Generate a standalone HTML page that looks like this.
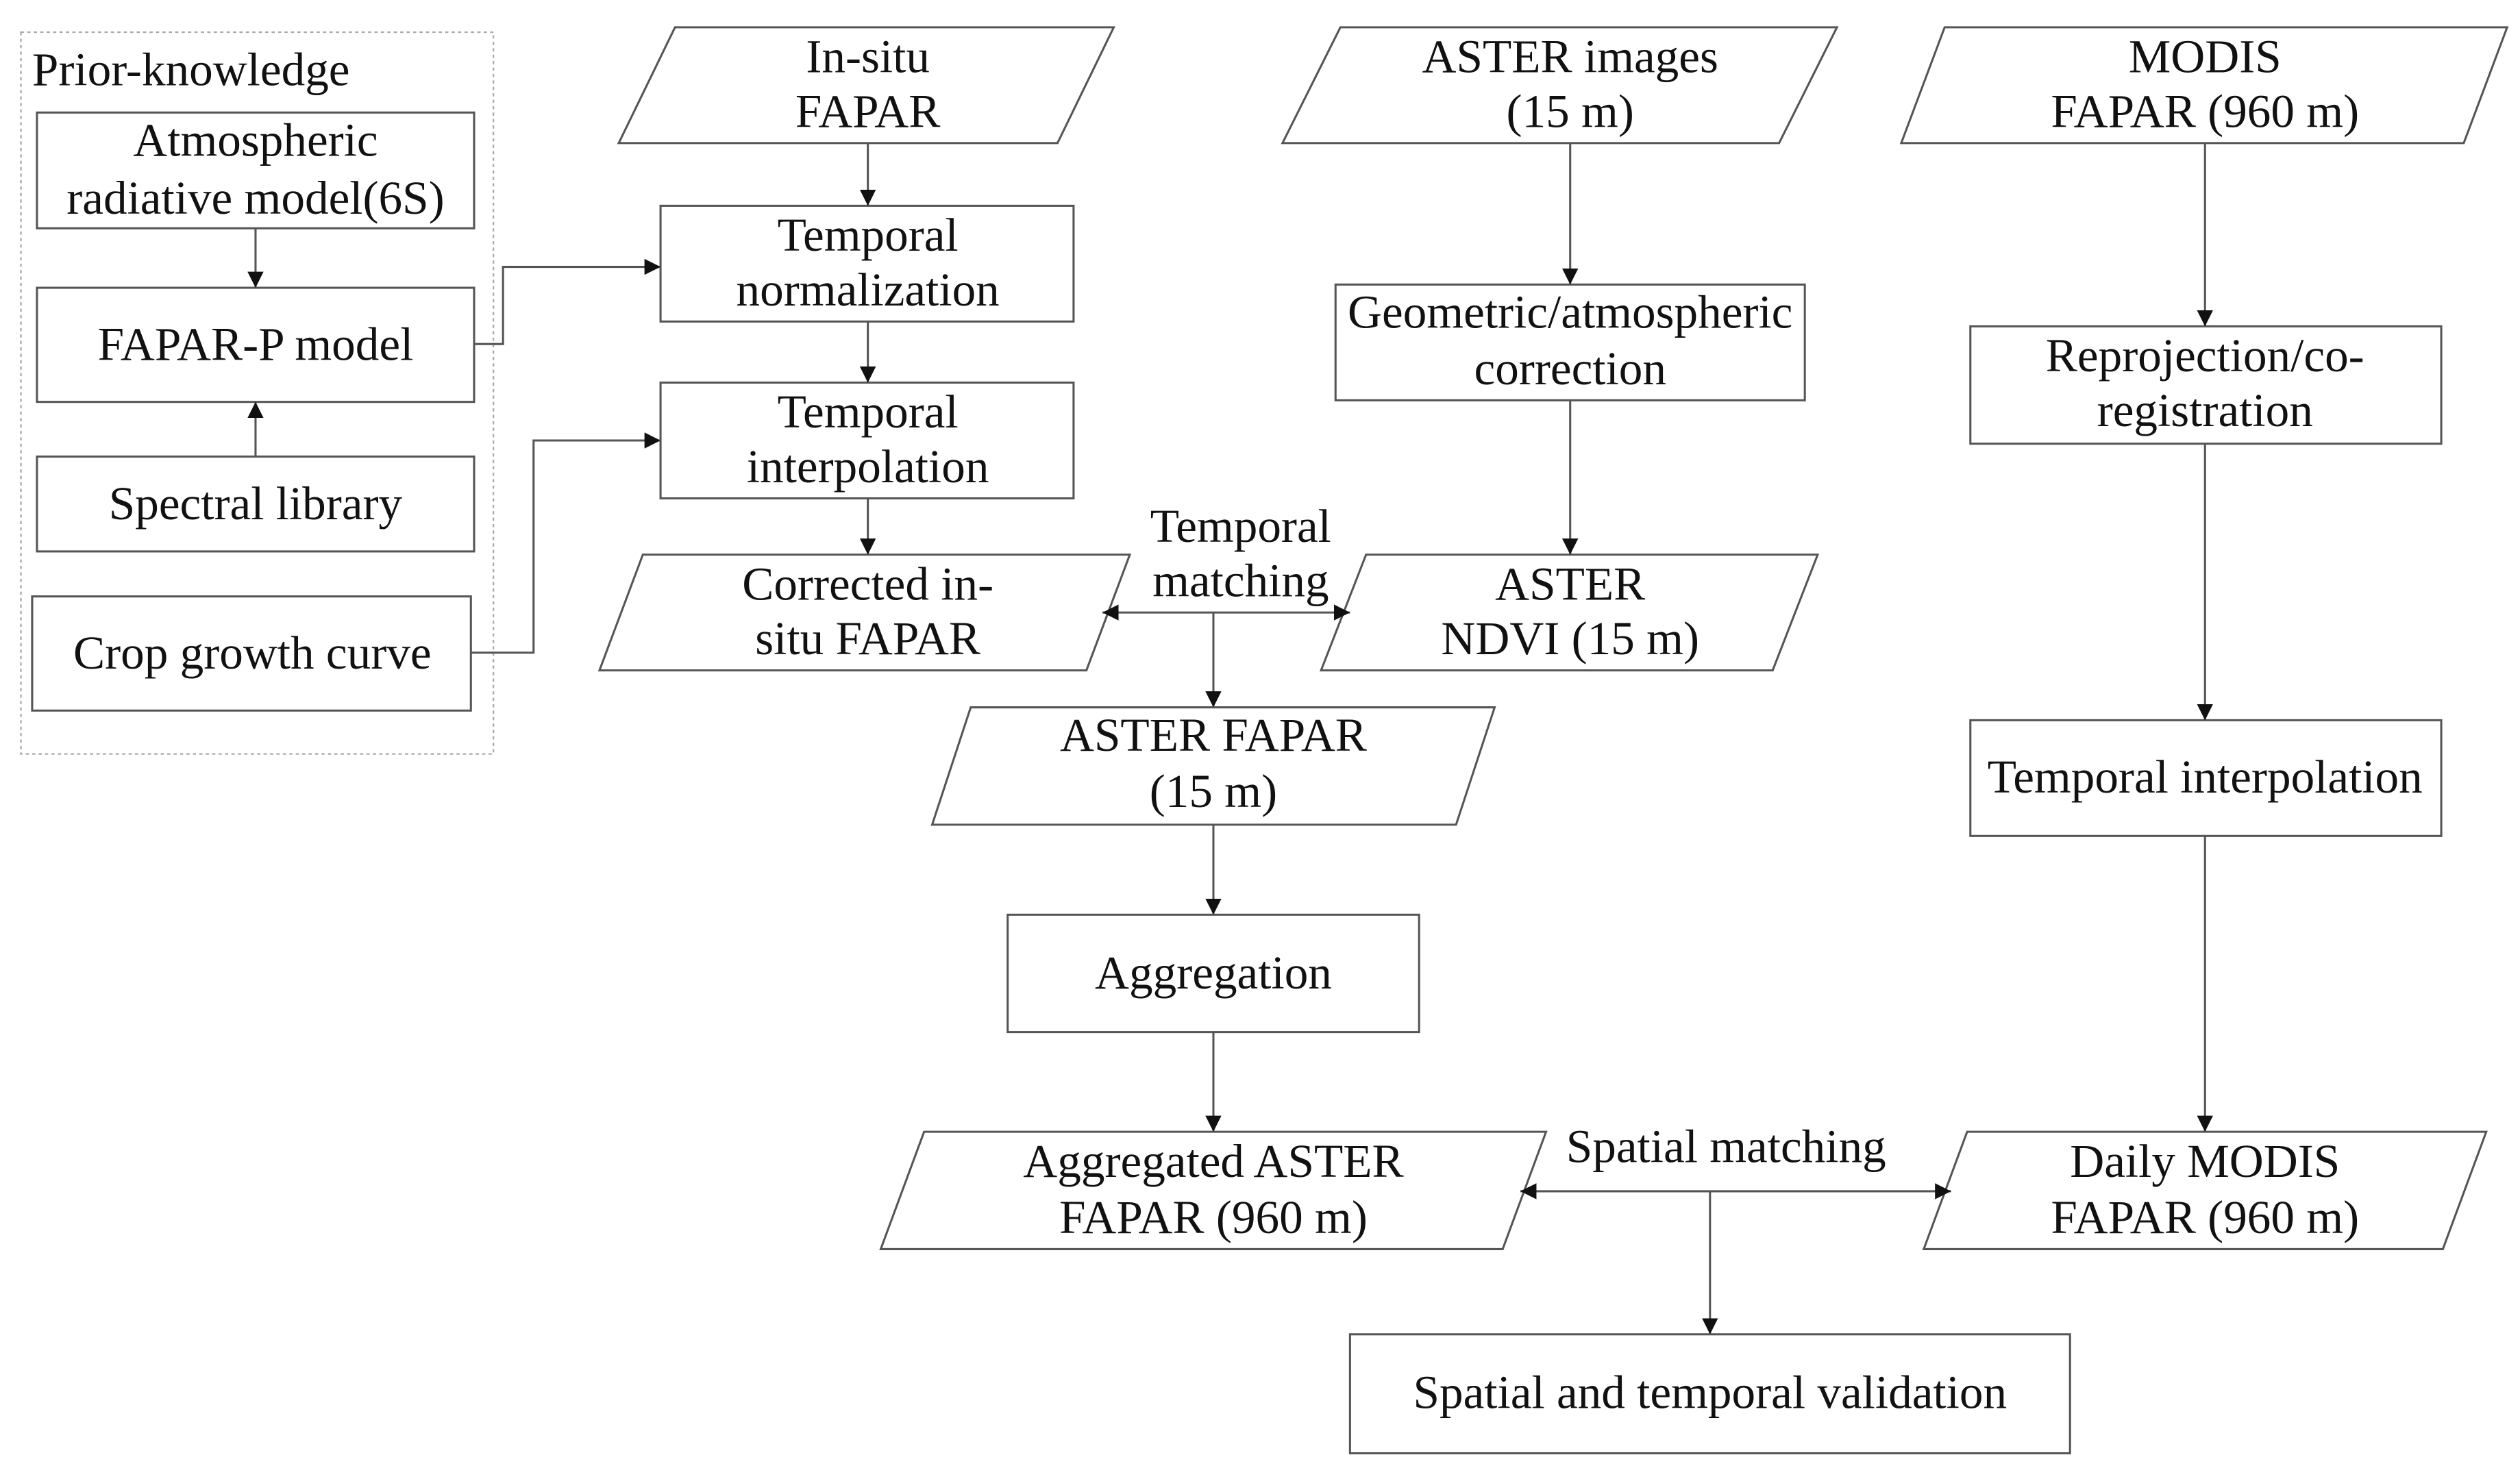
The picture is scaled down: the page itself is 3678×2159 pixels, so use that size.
<!DOCTYPE html>
<html><head><meta charset="utf-8"><style>
html,body{margin:0;padding:0;background:#fff;}
svg{display:block;}
text{font-family:"Liberation Serif",serif;font-size:29.5px;fill:#111;text-anchor:middle;}
.b{fill:#fff;stroke:#555;stroke-width:1.3;}
.l{fill:none;stroke:#555;stroke-width:1.3;}
</style></head><body>
<svg width="3678" height="2159" viewBox="0 0 1568 920" preserveAspectRatio="none" xmlns="http://www.w3.org/2000/svg">
<defs><marker id="a" viewBox="0 0 10 10" refX="10" refY="5" markerWidth="10" markerHeight="10" markerUnits="userSpaceOnUse" orient="auto-start-reverse"><path d="M0,0 L10,5 L0,10 z" fill="#111"/></marker></defs>
<rect x="13" y="20" width="294" height="449" fill="none" stroke="#aaa" stroke-width="1" stroke-dasharray="2,2"/>
<text x="20" y="53" style="text-anchor:start">Prior-knowledge</text>
<rect class="b" x="23" y="70" width="272" height="72"/>
<text x="159" y="97">Atmospheric</text><text x="159" y="133">radiative model(6S)</text>
<rect class="b" x="23" y="179" width="272" height="71"/>
<text x="159" y="224">FAPAR-P model</text>
<rect class="b" x="23" y="284" width="272" height="59"/>
<text x="159" y="323">Spectral library</text>
<rect class="b" x="20" y="371" width="273" height="71"/>
<text x="157" y="416">Crop growth curve</text>
<line class="l" x1="159" y1="142" x2="159" y2="179" marker-end="url(#a)"/>
<line class="l" x1="159" y1="284" x2="159" y2="250" marker-end="url(#a)"/>
<polyline class="l" points="295,214 313,214 313,166 411,166" marker-end="url(#a)"/>
<polyline class="l" points="293,406 332,406 332,274 411,274" marker-end="url(#a)"/>

<polygon class="b" points="420,17 693,17 658,89 385,89"/>
<text x="540" y="45">In-situ</text><text x="540" y="79">FAPAR</text>
<rect class="b" x="411" y="128" width="257" height="72"/>
<text x="540" y="156">Temporal</text><text x="540" y="190">normalization</text>
<rect class="b" x="411" y="238" width="257" height="72"/>
<text x="540" y="266">Temporal</text><text x="540" y="300">interpolation</text>
<polygon class="b" points="400,345 703,345 676,417 373,417"/>
<text x="540" y="373">Corrected in-</text><text x="540" y="407">situ FAPAR</text>
<line class="l" x1="540" y1="89" x2="540" y2="128" marker-end="url(#a)"/>
<line class="l" x1="540" y1="200" x2="540" y2="238" marker-end="url(#a)"/>
<line class="l" x1="540" y1="310" x2="540" y2="345" marker-end="url(#a)"/>

<polygon class="b" points="834,17 1143,17 1107,89 798,89"/>
<text x="977" y="45">ASTER images</text><text x="977" y="79">(15 m)</text>
<rect class="b" x="831" y="177" width="292" height="72"/>
<text x="977" y="204">Geometric/atmospheric</text><text x="977" y="239">correction</text>
<polygon class="b" points="850,345 1131,345 1103,417 822,417"/>
<text x="977" y="373">ASTER</text><text x="977" y="407">NDVI (15 m)</text>
<line class="l" x1="977" y1="89" x2="977" y2="177" marker-end="url(#a)"/>
<line class="l" x1="977" y1="249" x2="977" y2="345" marker-end="url(#a)"/>

<text x="772" y="337">Temporal</text><text x="772" y="371">matching</text>
<line class="l" x1="686" y1="381" x2="840" y2="381" marker-start="url(#a)" marker-end="url(#a)"/>
<line class="l" x1="755" y1="381" x2="755" y2="440" marker-end="url(#a)"/>
<polygon class="b" points="604,440 930,440 906,513 580,513"/>
<text x="755" y="467">ASTER FAPAR</text><text x="755" y="502">(15 m)</text>
<line class="l" x1="755" y1="513" x2="755" y2="569" marker-end="url(#a)"/>
<rect class="b" x="627" y="569" width="256" height="73"/>
<text x="755" y="615">Aggregation</text>
<line class="l" x1="755" y1="642" x2="755" y2="704" marker-end="url(#a)"/>
<polygon class="b" points="575,704 962,704 935,777 548,777"/>
<text x="755" y="732">Aggregated ASTER</text><text x="755" y="767">FAPAR (960 m)</text>

<polygon class="b" points="1210,17 1560,17 1533,89 1183,89"/>
<text x="1372" y="45">MODIS</text><text x="1372" y="79">FAPAR (960 m)</text>
<rect class="b" x="1226" y="203" width="293" height="73"/>
<text x="1372" y="231">Reprojection/co-</text><text x="1372" y="265">registration</text>
<rect class="b" x="1226" y="448" width="293" height="72"/>
<text x="1372" y="493">Temporal interpolation</text>
<polygon class="b" points="1224,704 1547,704 1520,777 1197,777"/>
<text x="1372" y="732">Daily MODIS</text><text x="1372" y="767">FAPAR (960 m)</text>
<line class="l" x1="1372" y1="89" x2="1372" y2="203" marker-end="url(#a)"/>
<line class="l" x1="1372" y1="276" x2="1372" y2="448" marker-end="url(#a)"/>
<line class="l" x1="1372" y1="520" x2="1372" y2="704" marker-end="url(#a)"/>

<text x="1074" y="723">Spatial matching</text>
<line class="l" x1="946" y1="741" x2="1214" y2="741" marker-start="url(#a)" marker-end="url(#a)"/>
<line class="l" x1="1064" y1="741" x2="1064" y2="830" marker-end="url(#a)"/>
<rect class="b" x="840" y="830" width="448" height="74"/>
<text x="1064" y="876">Spatial and temporal validation</text>
</svg>
</body></html>
